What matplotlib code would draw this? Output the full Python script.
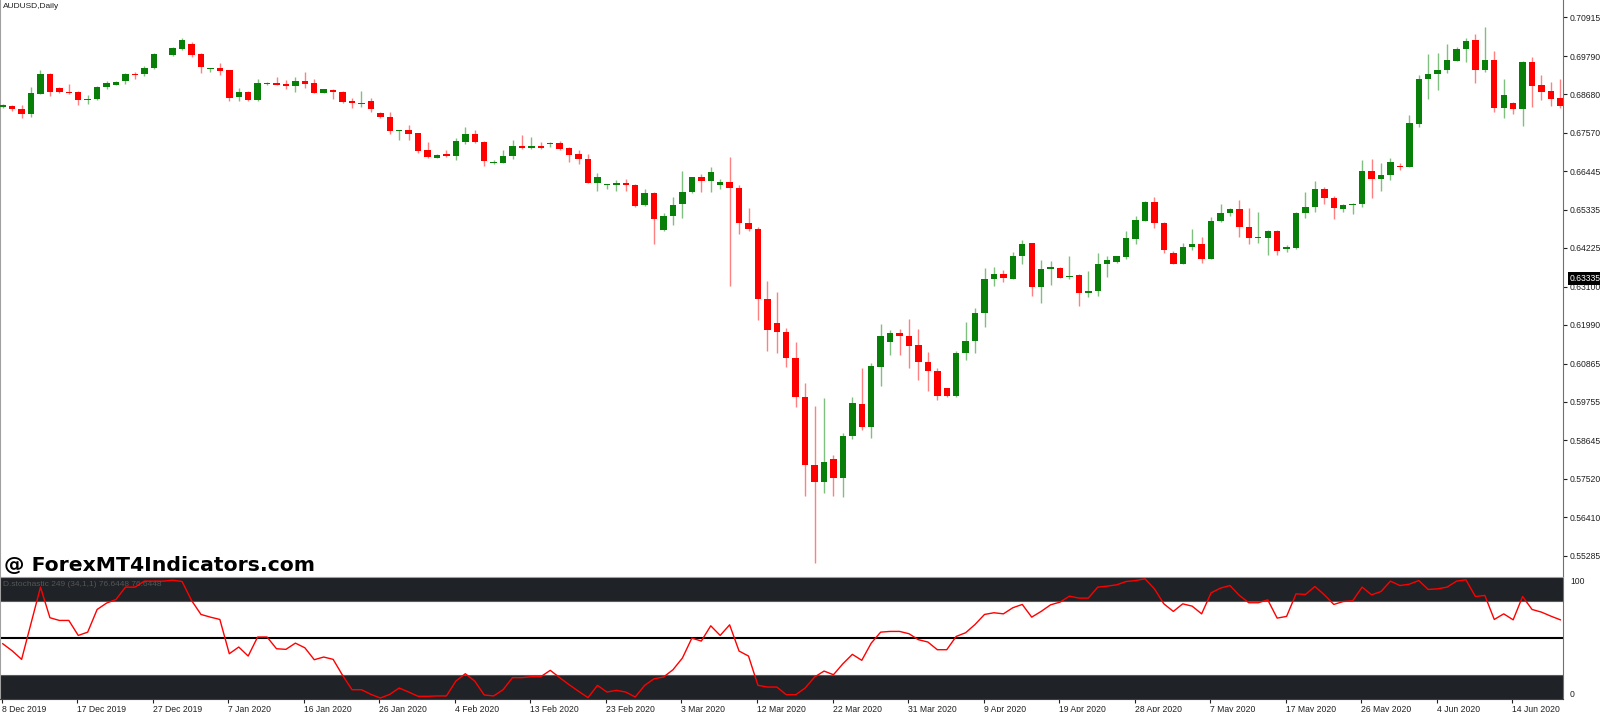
import numpy as np
import matplotlib
matplotlib.use("Agg")
import matplotlib.pyplot as plt
import matplotlib.transforms as mtransforms

plt.rcParams['font.family'] = ['Liberation Sans', 'DejaVu Sans']

# AUDUSD daily bars, 8 Dec 2019 .. 19 Jun 2020 (slot 17 has no candle)
opens = [0.6831, 0.6835, 0.6825, 0.6811, 0.6870, 0.6926, 0.6885, 0.6876, 0.6875, 0.6851,
         0.6854, 0.6890, 0.6896, 0.6906, 0.6927, 0.6927, 0.6944, np.nan, 0.6981, 0.7000,
         0.7014, 0.6984, 0.6941, 0.6944, 0.6938, 0.6859, 0.6876, 0.6851, 0.6897, 0.6902,
         0.6898, 0.6892, 0.6908, 0.6901, 0.6873, 0.6881, 0.6876, 0.6848, 0.6840, 0.6849,
         0.6813, 0.6802, 0.6761, 0.6764, 0.6755, 0.6705, 0.6684, 0.6694, 0.6689, 0.6731,
         0.6753, 0.6731, 0.6668, 0.6670, 0.6689, 0.6719, 0.6713, 0.6719, 0.6723, 0.6728,
         0.6711, 0.6695, 0.6681, 0.6612, 0.6605, 0.6605, 0.6611, 0.6606, 0.6546, 0.6581,
         0.6474, 0.6514, 0.6549, 0.6584, 0.6628, 0.6616, 0.6604, 0.6613, 0.6597, 0.6494,
         0.6478, 0.6275, 0.6205, 0.6179, 0.6104, 0.5990, 0.5793, 0.5744, 0.5809, 0.5755,
         0.5877, 0.5970, 0.5902, 0.6078, 0.6150, 0.6175, 0.6167, 0.6140, 0.6092, 0.6066,
         0.6016, 0.5992, 0.6116, 0.6152, 0.6232, 0.6331, 0.6347, 0.6333, 0.6399, 0.6436,
         0.6309, 0.6360, 0.6364, 0.6338, 0.6344, 0.6292, 0.6296, 0.6376, 0.6381, 0.6397,
         0.6448, 0.6501, 0.6555, 0.6495, 0.6407, 0.6377, 0.6425, 0.6434, 0.6390, 0.6500,
         0.6525, 0.6535, 0.6484, 0.6450, 0.6452, 0.6471, 0.6419, 0.6422, 0.6523, 0.6540,
         0.6592, 0.6566, 0.6535, 0.6546, 0.6551, 0.6646, 0.6621, 0.6633, 0.6660, 0.6658,
         0.6783, 0.6912, 0.6926, 0.6939, 0.6966, 0.6999, 0.7025, 0.6939, 0.6968, 0.6827,
         0.6844, 0.6825, 0.6963, 0.6895, 0.6878, 0.6856]
highs = [0.6840, 0.6838, 0.6837, 0.6888, 0.6939, 0.6929, 0.6888, 0.6898, 0.6878, 0.6865,
         0.6892, 0.6906, 0.6907, 0.6931, 0.6932, 0.6951, 0.6987, np.nan, 0.7004, 0.7031,
         0.7019, 0.6987, 0.6945, 0.6958, 0.6939, 0.6885, 0.6878, 0.6912, 0.6905, 0.6919,
         0.6909, 0.6917, 0.6934, 0.6912, 0.6884, 0.6884, 0.6878, 0.6856, 0.6878, 0.6856,
         0.6816, 0.6817, 0.6765, 0.6779, 0.6756, 0.6730, 0.6695, 0.6706, 0.6740, 0.6774,
         0.6765, 0.6732, 0.6678, 0.6706, 0.6736, 0.6750, 0.6745, 0.6731, 0.6731, 0.6732,
         0.6714, 0.6706, 0.6695, 0.6639, 0.6608, 0.6619, 0.6623, 0.6608, 0.6592, 0.6585,
         0.6523, 0.6569, 0.6646, 0.6629, 0.6637, 0.6658, 0.6621, 0.6685, 0.6605, 0.6539,
         0.6482, 0.6326, 0.6295, 0.6189, 0.6150, 0.6029, 0.5964, 0.5988, 0.5821, 0.5886,
         0.5991, 0.6074, 0.6089, 0.6202, 0.6184, 0.6187, 0.6215, 0.6187, 0.6120, 0.6075,
         0.6017, 0.6124, 0.6208, 0.6247, 0.6365, 0.6368, 0.6358, 0.6411, 0.6445, 0.6437,
         0.6387, 0.6385, 0.6366, 0.6399, 0.6347, 0.6354, 0.6407, 0.6399, 0.6400, 0.6472,
         0.6515, 0.6558, 0.6571, 0.6498, 0.6413, 0.6437, 0.6477, 0.6453, 0.6511, 0.6550,
         0.6537, 0.6561, 0.6537, 0.6526, 0.6474, 0.6474, 0.6430, 0.6527, 0.6585, 0.6617,
         0.6598, 0.6574, 0.6549, 0.6552, 0.6677, 0.6681, 0.6668, 0.6684, 0.6668, 0.6808,
         0.6924, 0.6985, 0.6989, 0.7013, 0.7004, 0.7031, 0.7043, 0.7064, 0.6994, 0.6912,
         0.6847, 0.6966, 0.6976, 0.6924, 0.6904, 0.6912]
lows = [0.6828, 0.6820, 0.6800, 0.6803, 0.6869, 0.6864, 0.6871, 0.6868, 0.6838, 0.6839,
        0.6852, 0.6883, 0.6894, 0.6897, 0.6912, 0.6921, 0.6942, np.nan, 0.6980, 0.6998,
        0.6977, 0.6929, 0.6932, 0.6924, 0.6849, 0.6849, 0.6850, 0.6850, 0.6895, 0.6894,
        0.6884, 0.6876, 0.6887, 0.6871, 0.6872, 0.6854, 0.6842, 0.6827, 0.6830, 0.6818,
        0.6800, 0.6753, 0.6736, 0.6735, 0.6699, 0.6684, 0.6683, 0.6685, 0.6677, 0.6724,
        0.6726, 0.6661, 0.6667, 0.6668, 0.6681, 0.6708, 0.6710, 0.6708, 0.6716, 0.6706,
        0.6672, 0.6666, 0.6610, 0.6587, 0.6594, 0.6587, 0.6587, 0.6542, 0.6543, 0.6434,
        0.6472, 0.6489, 0.6509, 0.6583, 0.6584, 0.6584, 0.6594, 0.6313, 0.6463, 0.6472,
        0.6212, 0.6122, 0.6117, 0.6078, 0.5960, 0.5702, 0.5509, 0.5710, 0.5703, 0.5700,
        0.5867, 0.5894, 0.5871, 0.6022, 0.6111, 0.6111, 0.6075, 0.6039, 0.6006, 0.5980,
        0.5991, 0.5990, 0.6097, 0.6116, 0.6194, 0.6312, 0.6324, 0.6331, 0.6376, 0.6284,
        0.6263, 0.6315, 0.6335, 0.6331, 0.6254, 0.6281, 0.6283, 0.6337, 0.6379, 0.6391,
        0.6434, 0.6500, 0.6481, 0.6408, 0.6375, 0.6375, 0.6415, 0.6379, 0.6389, 0.6497,
        0.6515, 0.6455, 0.6433, 0.6437, 0.6403, 0.6403, 0.6410, 0.6419, 0.6510, 0.6527,
        0.6549, 0.6505, 0.6527, 0.6520, 0.6542, 0.6568, 0.6588, 0.6619, 0.6648, 0.6657,
        0.6774, 0.6854, 0.6880, 0.6929, 0.6964, 0.6963, 0.6900, 0.6934, 0.6818, 0.6798,
        0.6811, 0.6776, 0.6832, 0.6851, 0.6834, 0.6827]
closes = [0.6837, 0.6825, 0.6812, 0.6871, 0.6926, 0.6876, 0.6875, 0.6873, 0.6851, 0.6854,
          0.6890, 0.6900, 0.6905, 0.6926, 0.6923, 0.6945, 0.6984, np.nan, 0.7001, 0.7025,
          0.6982, 0.6946, 0.6943, 0.6936, 0.6858, 0.6876, 0.6851, 0.6901, 0.6902, 0.6896,
          0.6893, 0.6907, 0.6898, 0.6873, 0.6882, 0.6875, 0.6847, 0.6843, 0.6843, 0.6825,
          0.6801, 0.6761, 0.6764, 0.6753, 0.6703, 0.6687, 0.6693, 0.6689, 0.6732, 0.6753,
          0.6730, 0.6674, 0.6673, 0.6690, 0.6719, 0.6713, 0.6719, 0.6713, 0.6728, 0.6709,
          0.6692, 0.6680, 0.6611, 0.6627, 0.6607, 0.6611, 0.6605, 0.6544, 0.6581, 0.6507,
          0.6515, 0.6548, 0.6584, 0.6628, 0.6616, 0.6642, 0.6613, 0.6597, 0.6494, 0.6476,
          0.6273, 0.6184, 0.6179, 0.6102, 0.5989, 0.5792, 0.5744, 0.5800, 0.5755, 0.5877,
          0.5971, 0.5902, 0.6080, 0.6167, 0.6175, 0.6167, 0.6139, 0.6090, 0.6065, 0.5993,
          0.5992, 0.6116, 0.6153, 0.6233, 0.6332, 0.6347, 0.6335, 0.6400, 0.6435, 0.6309,
          0.6360, 0.6366, 0.6336, 0.6342, 0.6292, 0.6297, 0.6377, 0.6387, 0.6399, 0.6450,
          0.6503, 0.6555, 0.6494, 0.6417, 0.6377, 0.6426, 0.6434, 0.6390, 0.6501, 0.6523,
          0.6535, 0.6484, 0.6451, 0.6454, 0.6471, 0.6413, 0.6426, 0.6525, 0.6540, 0.6592,
          0.6566, 0.6537, 0.6546, 0.6550, 0.6646, 0.6621, 0.6634, 0.6672, 0.6658, 0.6784,
          0.6913, 0.6927, 0.6939, 0.6968, 0.7000, 0.7023, 0.6939, 0.6968, 0.6827, 0.6866,
          0.6825, 0.6963, 0.6893, 0.6876, 0.6855, 0.6834]

# D.stochastic 249 (34,1,1)
stoch = [45.3, 39.5, 32.5, 62.0, 91.7, 66.6, 64.4, 64.4, 52.1, 54.8,
         73.4, 78.6, 81.6, 91.7, 91.7, 96.6, 96.6, 96.6, 97.4, 96.3,
         80.8, 69.3, 67.1, 65.2, 37.1, 42.6, 35.2, 50.8, 50.8, 41.2,
         40.7, 45.8, 42.0, 32.2, 34.4, 32.5, 19.4, 7.6, 7.6, 3.8,
         0.8, 3.8, 9.0, 5.7, 2.2, 2.2, 2.5, 2.5, 14.7, 20.7,
         14.7, 3.3, 2.5, 7.6, 17.5, 17.5, 18.3, 18.3, 23.5, 17.5,
         11.7, 6.3, 1.1, 11.2, 5.7, 7.1, 5.7, 1.6, 11.2, 16.6,
         18.0, 24.0, 33.6, 49.9, 47.5, 60.0, 52.1, 60.8, 39.3, 35.2,
         11.2, 9.8, 9.8, 3.5, 3.5, 9.0, 18.0, 22.9, 19.9, 28.9,
         36.6, 31.7, 45.8, 54.8, 55.4, 55.4, 53.5, 48.6, 46.7, 40.4,
         40.4, 51.3, 54.3, 61.1, 69.3, 70.7, 69.8, 74.8, 77.5, 67.1,
         71.8, 77.2, 79.4, 84.3, 82.7, 82.7, 91.7, 92.5, 93.6, 96.3,
         97.1, 98.5, 90.3, 78.0, 71.8, 78.0, 76.1, 69.8, 87.0, 90.9,
         93.0, 84.9, 78.9, 78.9, 81.3, 66.3, 67.7, 86.2, 85.7, 92.2,
         85.4, 77.5, 79.9, 80.5, 91.7, 85.4, 88.1, 96.6, 93.0, 94.1,
         97.1, 89.8, 90.3, 91.7, 96.6, 97.7, 84.0, 84.9, 65.2, 69.8,
         64.9, 84.0, 73.4, 71.2, 67.9, 64.9]

date_labels = ['8 Dec 2019', '17 Dec 2019', '27 Dec 2019', '7 Jan 2020', '16 Jan 2020',
               '26 Jan 2020', '4 Feb 2020', '13 Feb 2020', '23 Feb 2020', '3 Mar 2020',
               '12 Mar 2020', '22 Mar 2020', '31 Mar 2020', '9 Apr 2020', '19 Apr 2020',
               '28 Apr 2020', '7 May 2020', '17 May 2020', '26 May 2020', '4 Jun 2020',
               '14 Jun 2020']
price_labels = ['0.70915', '0.69790', '0.68680', '0.67570', '0.66445', '0.65335', '0.64225',
                '0.63100', '0.61990', '0.60865', '0.59755', '0.58645', '0.57520', '0.56410',
                '0.55285']
current_price = '0.63335'
stoch_levels = [20, 50, 80]

o = np.array(opens)
h = np.array(highs)
l = np.array(lows)
c = np.array(closes)
x = np.arange(len(o))
ok = ~np.isnan(o)
up = c >= o

W, H = 1600, 712
fig = plt.figure(figsize=(W / 100, H / 100), dpi=100)
ax = fig.add_axes([0, 136 / H, 1563 / W, 576 / H])
axs = fig.add_axes([0, 13 / H, 1563 / W, 122 / H], sharex=ax)

# candles
wick_col = np.where(up, '#7fbf7f', '#ff8080')
body_col = np.where(up, '#087f08', '#ff0000')
ax.vlines(x[ok], l[ok], h[ok], colors=wick_col[ok], linewidth=1.0, zorder=2)
body_h = np.maximum(np.abs(c - o), 0.0002)
ax.bar(x[ok], body_h[ok], bottom=np.minimum(o, c)[ok], width=0.68,
       color=body_col[ok], linewidth=0, zorder=3)

ax.set_xlim(-0.29, 165.28)
ax.set_ylim(0.54702, 0.71417)
ax.yaxis.tick_right()
ax.set_yticks([float(p) for p in price_labels])
ax.set_yticklabels(price_labels)
ax.tick_params(axis='y', direction='out', length=3, width=0.8, pad=2,
               labelsize=6.2, colors='#202020')
ax.tick_params(axis='x', bottom=False, labelbottom=False)
for s in ['top', 'bottom']:
    ax.spines[s].set_visible(False)
ax.spines['left'].set_color('#a0a0a0')
ax.spines['left'].set_linewidth(1.5)
ax.spines['right'].set_color('#707070')

# current price box
trans = mtransforms.blended_transform_factory(ax.transAxes, ax.transData)
ax.text(1.004, float(current_price), current_price, transform=trans, color='white',
        fontsize=6.2, va='center', ha='left', clip_on=False,
        bbox=dict(boxstyle='square,pad=0.2', fc='black', ec='none'))

# stochastic pane
axs.axhspan(80, 100, color='#1f2226', lw=0, zorder=1)
axs.axhspan(0, 20, color='#1f2226', lw=0, zorder=1)
for lv in stoch_levels:
    if lv == 50:
        axs.axhline(lv, color='black', lw=1.5, zorder=2)
    else:
        axs.axhline(lv, color='#5a5a5a', lw=0.8, zorder=2)
axs.plot(x, stoch, color='#ff0000', lw=1.0, zorder=4)
axs.set_ylim(0, 100)
axs.yaxis.tick_right()
axs.set_yticks([0, 100])
axs.set_yticklabels(['0', '100'])
axs.tick_params(axis='y', length=0, pad=5, labelsize=6.2, colors='#202020')
ylab = axs.get_yticklabels()
ylab[0].set_va('bottom')
ylab[1].set_va('top')
axs.set_xticks(np.arange(0, 161, 8) - 0.1)
axs.set_xticklabels(date_labels, ha='left')
axs.tick_params(axis='x', direction='out', length=3, width=0.8, pad=1,
                labelsize=6.2, colors='#202020')
axs.spines['top'].set_color('#a0a0a0')
axs.spines['left'].set_color('#a0a0a0')
axs.spines['left'].set_linewidth(1.5)
axs.spines['right'].set_color('#707070')
axs.spines['bottom'].set_color('#404040')

fig.text(3 / W, 1 - 7 / H, 'AUDUSD,Daily', fontsize=6, va='center', color='#202020')
fig.text(3 / W, (H - 585) / H, 'D.stochastic 249 (34,1,1) 76.6448 76.6448',
         fontsize=6, va='center', color='#555555', zorder=10)
fig.text(4 / W, (H - 571) / H, '@ ForexMT4Indicators.com', fontsize=14.7,
         fontweight='bold', family='DejaVu Sans', va='baseline', color='black')

fig.savefig('out.png', dpi=100)
